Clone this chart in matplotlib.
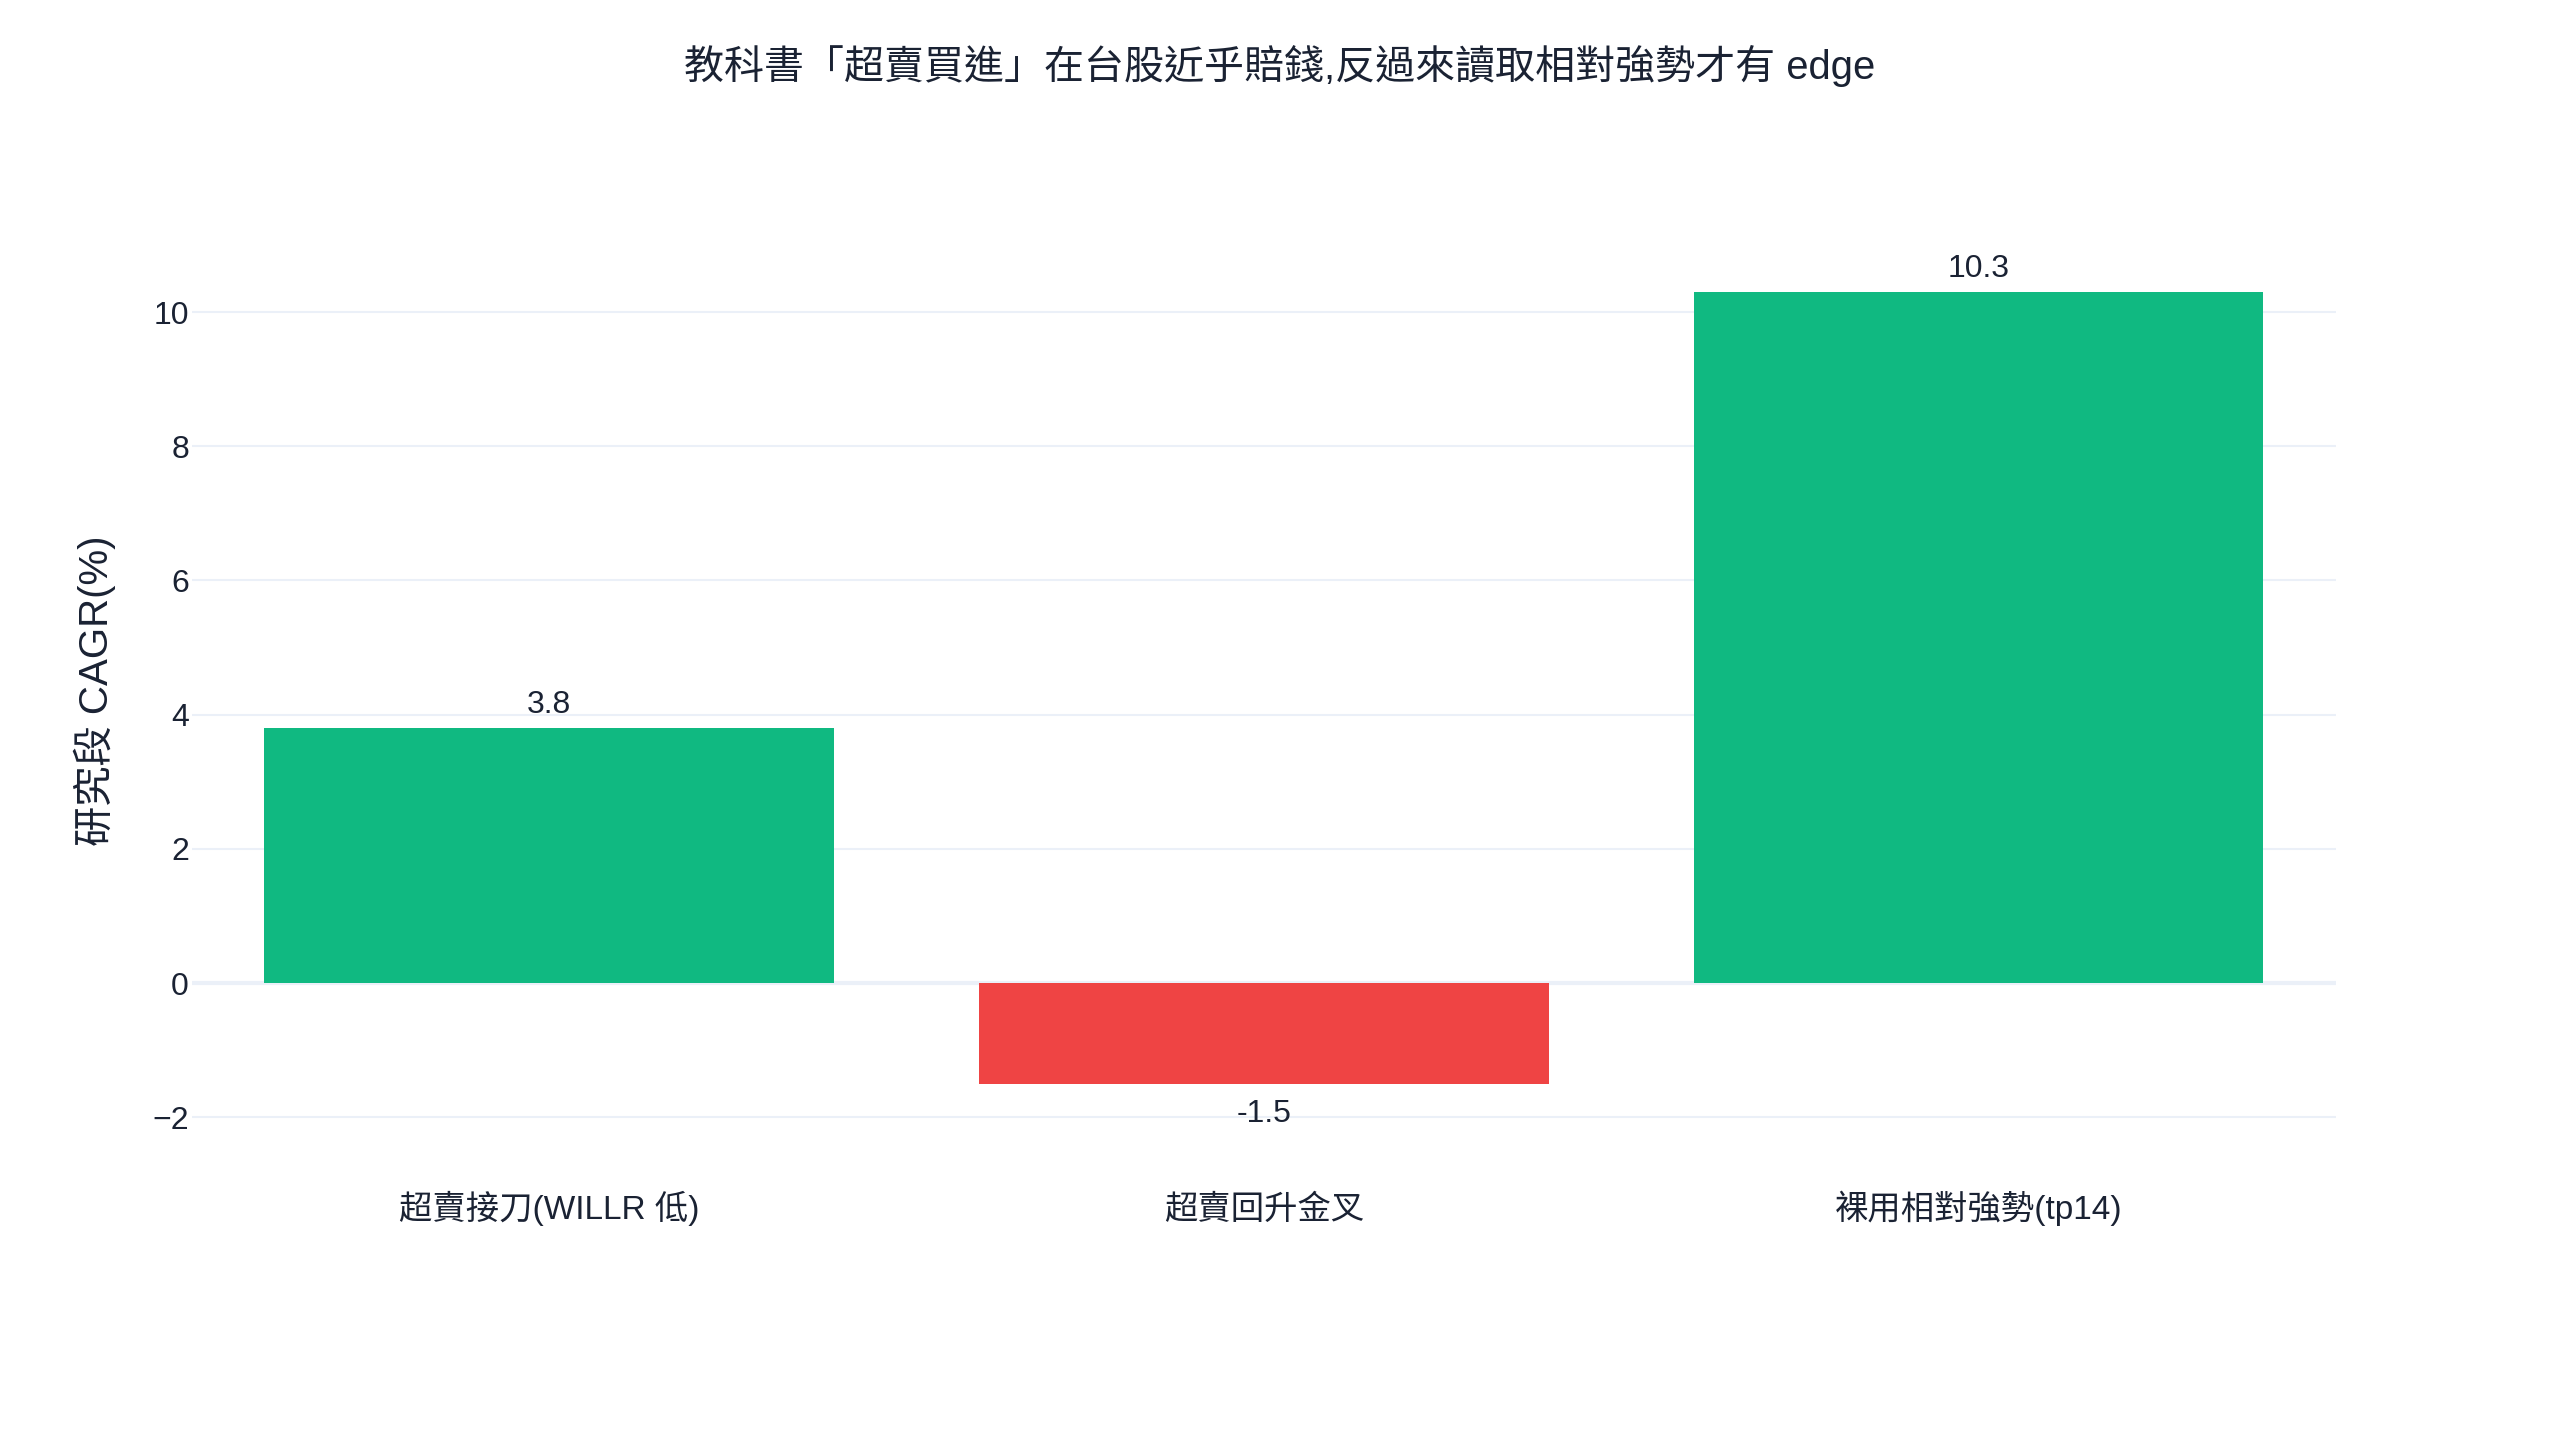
import matplotlib
matplotlib.use("Agg")
import matplotlib.pyplot as plt

plt.rcParams['font.family'] = ['Liberation Sans', 'Noto Sans CJK TC', 'DejaVu Sans']

# data
categories = ["超賣接刀(WILLR 低)", "超賣回升金叉", "裸用相對強勢(tp14)"]
cagr = [3.8, -1.5, 10.3]
bar_labels = ["3.8", "-1.5", "10.3"]
yticks = [-2, 0, 2, 4, 6, 8, 10]

title = "教科書「超賣買進」在台股近乎賠錢,反過來讀取相對強勢才有 edge"
ylabel = "研究段 CAGR(%)"

txt = '#1a2233'
grid = '#ebf0f8'
colors = ['#10b981' if v >= 0 else '#ef4444' for v in cagr]

fig = plt.figure(figsize=(25.6, 14.4), dpi=100)
ax = fig.add_axes([0.0749, 0.1962, 0.8376, 0.6477])

x = range(len(categories))
ax.bar(x, cagr, width=0.797, color=colors, zorder=3)

for i, v in enumerate(cagr):
	if v >= 0:
		ax.annotate(bar_labels[i], (i, v), xytext=(0, 6), textcoords='offset points',
			ha='center', va='bottom', fontsize=23, color=txt)
	else:
		ax.annotate(bar_labels[i], (i, v), xytext=(0, -11), textcoords='offset points',
			ha='center', va='top', fontsize=23, color=txt)

ax.set_xlim(-0.5, 2.5)
ax.set_ylim(-2.6, 11.3)
ax.set_yticks(yticks)
ax.set_yticklabels([str(t).replace('-', '\u2212') for t in yticks])
ax.set_xticks(list(x))
ax.set_xticklabels(categories)
for lab in ax.get_xticklabels():
	lab.set_va('baseline')

ax.grid(axis='y', color=grid, linewidth=1.5, zorder=0)
ax.axhline(0, color=grid, linewidth=3, zorder=1)
ax.set_axisbelow(True)
for s in ax.spines.values():
	s.set_visible(False)
ax.tick_params(axis='y', length=0, pad=2, labelsize=23, labelcolor=txt)
ax.tick_params(axis='x', length=0, pad=44.5, labelsize=24, labelcolor=txt)

fig.text(0.037, 0.52, ylabel, rotation=90, ha='center', va='center', fontsize=29, color=txt)
fig.text(0.5, 0.954, title, ha='center', va='center', fontsize=28.8, color=txt)

fig.savefig('out.png', dpi=100, facecolor='white')
